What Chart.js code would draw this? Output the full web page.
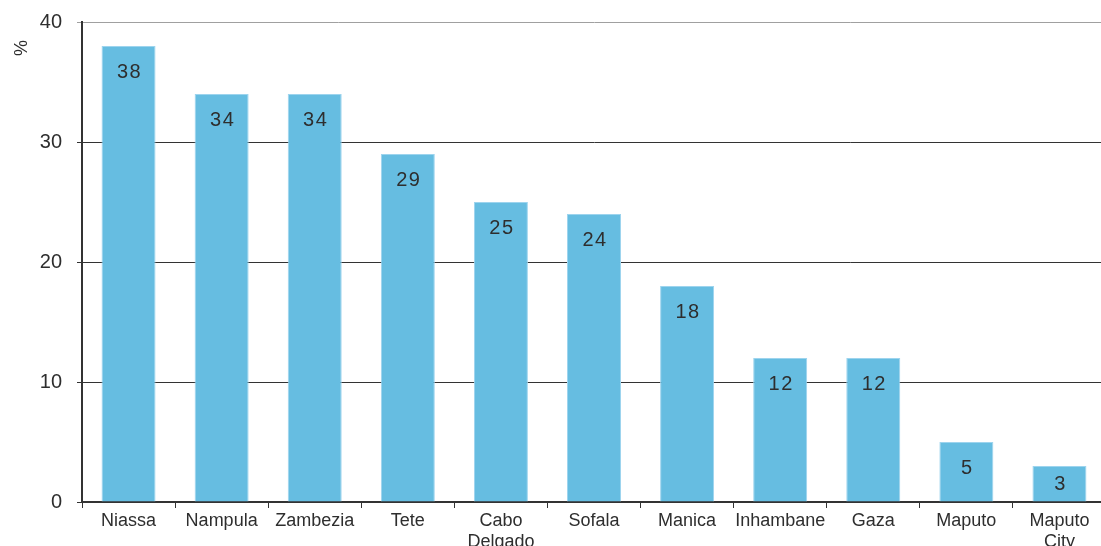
<!DOCTYPE html>
<html>
<head>
<meta charset="utf-8">
<script src="https://cdn.jsdelivr.net/npm/chart.js@4/dist/chart.umd.min.js"></script>
<style>
  html, body { margin: 0; padding: 0; overflow: hidden; background: #fff; }
  #wrap { width: 1106px; height: 546px; }
</style>
</head>
<body>
<div id="wrap"><canvas id="c" width="1106" height="546"></canvas></div>
<script>
const categories = ['Niassa', 'Nampula', 'Zambezia', 'Tete', ['Cabo', 'Delgado'], 'Sofala', 'Manica', 'Inhambane', 'Gaza', 'Maputo', ['Maputo', 'City']];
const values = [38, 34, 34, 29, 25, 24, 18, 12, 12, 5, 3];
const yTicks = [0, 10, 20, 30, 40];
const yTitle = '%';

const textColor = '#2e2e2e';
const fontFamily = '"Liberation Sans", Arial, sans-serif';

const valueLabels = {
  id: 'valueLabels',
  afterDatasetsDraw(chart) {
    const ctx = chart.ctx;
    const meta = chart.getDatasetMeta(0);
    ctx.save();
    ctx.font = '20px ' + fontFamily;
    ctx.fillStyle = textColor;
    ctx.textAlign = 'center';
    ctx.textBaseline = 'middle';
    try { ctx.letterSpacing = '1.5px'; } catch (e) {}
    meta.data.forEach((bar, i) => {
      const top = bar.y, base = bar.base;
      const y = Math.min(top + 25, (top + base) / 2);
      ctx.fillText(String(values[i]), bar.x + 1, y + 1);
    });
    ctx.restore();
  }
};

const yTitlePlugin = {
  id: 'yTitlePlugin',
  afterDraw(chart) {
    const ctx = chart.ctx;
    ctx.save();
    ctx.font = '18px ' + fontFamily;
    ctx.fillStyle = textColor;
    ctx.translate(22, 48);
    ctx.rotate(-Math.PI / 2);
    ctx.textAlign = 'center';
    ctx.textBaseline = 'middle';
    ctx.fillText(yTitle, 0, 0);
    ctx.restore();
  }
};

new Chart(document.getElementById('c'), {
  type: 'bar',
  data: {
    labels: categories,
    datasets: [{
      data: values,
      backgroundColor: '#66bde1',
      borderColor: '#9dd4ee',
      borderWidth: 1,
      categoryPercentage: 1.0,
      barPercentage: 0.58
    }]
  },
  options: {
    responsive: false,
    animation: false,
    layout: { padding: { left: 0, right: 0, top: 22, bottom: 0 } },
    plugins: {
      legend: { display: false },
      tooltip: { enabled: false }
    },
    scales: {
      x: {
        offset: true,
        grid: {
          offset: true,
          drawOnChartArea: false,
          drawTicks: true,
          tickLength: 6,
          color: '#333'
        },
        border: { display: true, color: '#333', width: 2 },
        ticks: {
          color: textColor,
          font: { family: fontFamily, size: 18 },
          padding: 2,
          maxRotation: 0,
          autoSkip: false
        },
        afterFit(scale) { scale.height = 44; scale.paddingLeft = 0; scale.paddingRight = 0; }
      },
      y: {
        min: 0,
        max: 40,
        afterBuildTicks(scale) { scale.ticks = yTicks.map(v => ({ value: v })); },
        grid: {
          drawTicks: true,
          tickLength: 5,
          color: (c) => (c.tick && c.tick.value === 40) ? '#a0a0a0' : '#333',
          lineWidth: 1
        },
        border: { display: true, color: '#333', width: 2 },
        ticks: {
          color: textColor,
          font: { family: fontFamily, size: 20 },
          padding: 15
        },
        afterFit(scale) { scale.width = 82; scale.paddingTop = 0; scale.paddingBottom = 0; }
      }
    }
  },
  plugins: [valueLabels, yTitlePlugin]
});
</script>
</body>
</html>
